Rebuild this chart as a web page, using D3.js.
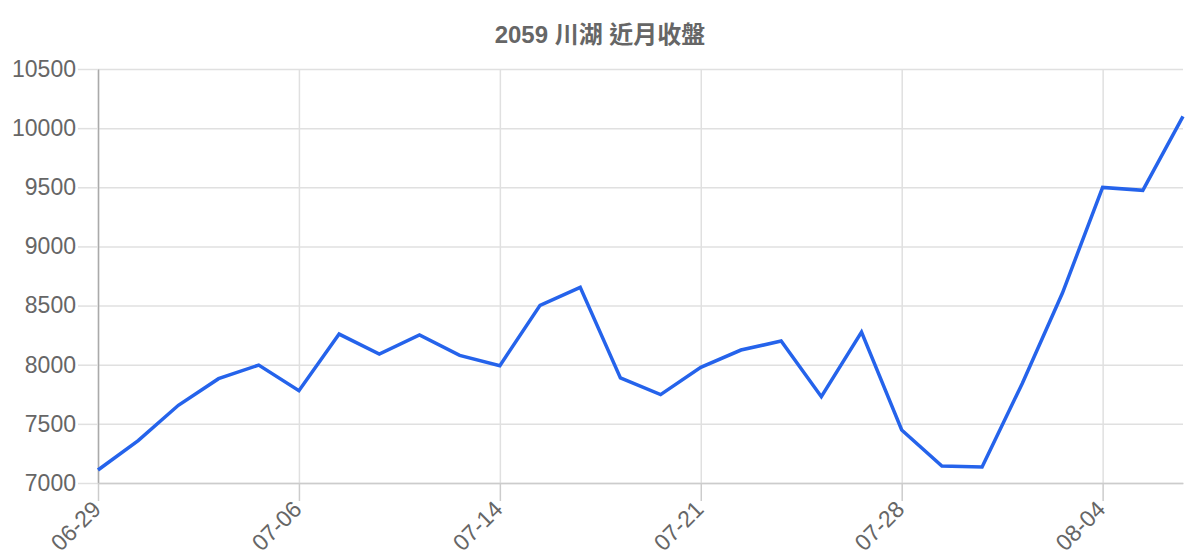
<!DOCTYPE html>
<html>
<head>
<meta charset="utf-8">
<script src="https://cdn.jsdelivr.net/npm/d3@7"></script>
<style>
    body { margin: 0; background: #fff; }
    svg { font-family: "Liberation Sans", Arial, "Noto Sans CJK TC", sans-serif; }
</style>
</head>
<body>
<div id="chart"></div>
<script>
var dates = ['06-29', '06-30', '07-01', '07-02', '07-03', '07-06', '07-07', '07-08', '07-09', '07-10',
    '07-14', '07-15', '07-16', '07-17', '07-20', '07-21', '07-22', '07-23', '07-24', '07-27',
    '07-28', '07-29', '07-30', '07-31', '08-03', '08-04', '08-05', '08-06'];
var closes = [7110, 7358, 7657, 7882, 7997, 7780, 8259, 8090, 8251, 8079,
    7992, 8502, 8654, 7888, 7747, 7978, 8124, 8200, 7730, 8276,
    7448, 7144, 7135, 7842, 8606, 9499, 9474, 10100];
var shownDates = ['06-29', '07-06', '07-14', '07-21', '07-28', '08-04'];
var yTicks = [7000, 7500, 8000, 8500, 9000, 9500, 10000, 10500];
var title = '2059 川湖 近月收盤';

var width = 1200, height = 560;
var margin = {top: 69, right: 17, bottom: 77, left: 98};

var svg = d3.select('#chart').append('svg')
    .attr('width', width)
    .attr('height', height);

var x = d3.scalePoint()
    .domain(dates)
    .range([margin.left, width - margin.right]);

var y = d3.scaleLinear()
    .domain([7000, 10500])
    .range([height - margin.bottom, margin.top]);

var plotW = width - margin.left - margin.right;
var plotH = height - margin.top - margin.bottom;

// grid
svg.append('g')
    .attr('transform', 'translate(' + margin.left + ' 0)')
    .call(d3.axisLeft(y).tickValues(yTicks).tickSize(-plotW).tickFormat(''))
    .call(function (g) {
        g.select('.domain').remove();
        g.selectAll('line').attr('stroke', '#e0e0e0').attr('stroke-width', 1.5);
    });
svg.append('g')
    .attr('transform', 'translate(0 ' + (height - margin.bottom) + ')')
    .call(d3.axisBottom(x).tickValues(shownDates).tickSize(-plotH).tickFormat(''))
    .call(function (g) {
        g.select('.domain').remove();
        g.selectAll('line').attr('stroke', '#e0e0e0').attr('stroke-width', 1.5);
    });

// axes
var yAxis = svg.append('g')
    .attr('transform', 'translate(' + margin.left + ' 0)')
    .call(d3.axisLeft(y).tickValues(yTicks).tickSize(20).tickPadding(2)
        .tickSizeOuter(0).tickFormat(d3.format('d')));
yAxis.select('.domain').attr('stroke', '#aaa').attr('stroke-width', 1.5);
yAxis.selectAll('line').attr('stroke', '#e0e0e0').attr('stroke-width', 1.5);
yAxis.selectAll('text')
    .attr('fill', '#666')
    .style('font-size', '23px');

var xAxis = svg.append('g')
    .attr('transform', 'translate(0 ' + (height - margin.bottom) + ')')
    .call(d3.axisBottom(x).tickValues(shownDates).tickSize(18).tickSizeOuter(0));
xAxis.select('.domain').attr('stroke', '#ccc').attr('stroke-width', 1.5);
xAxis.selectAll('line').attr('stroke', '#ccc').attr('stroke-width', 1.5);
xAxis.selectAll('text')
    .attr('fill', '#666')
    .style('font-size', '23px')
    .attr('text-anchor', 'end')
    .attr('x', 0)
    .attr('y', 0)
    .attr('dy', '0.35em')
    .attr('transform', 'translate(-2 22) rotate(-45)');

// line
var line = d3.line()
    .x(function (d, i) { return x(dates[i]); })
    .y(function (d) { return y(d); });

svg.append('path')
    .datum(closes)
    .attr('fill', 'none')
    .attr('stroke', '#2563eb')
    .attr('stroke-width', 3.5)
    .attr('stroke-linejoin', 'miter')
    .attr('d', line);

svg.append('text')
    .attr('x', width / 2)
    .attr('y', 43)
    .attr('text-anchor', 'middle')
    .attr('fill', '#666')
    .style('font-size', '24px')
    .style('font-weight', 'bold')
    .text(title);
</script>
</body>
</html>
